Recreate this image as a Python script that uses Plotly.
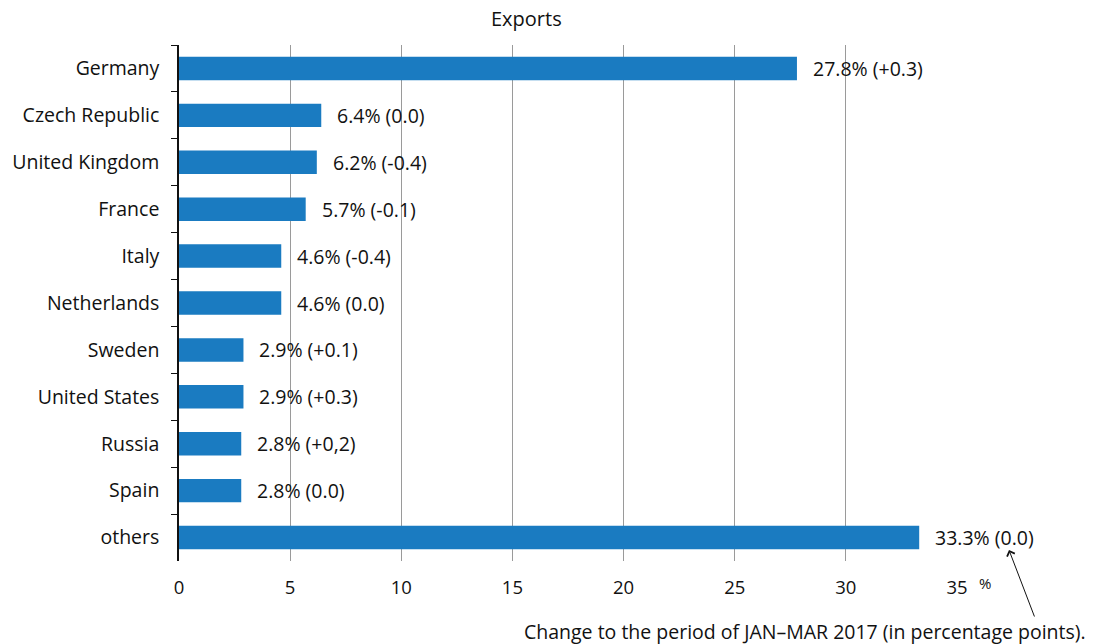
import plotly.graph_objects as go

countries = ["Germany", "Czech Republic", "United Kingdom", "France", "Italy",
             "Netherlands", "Sweden", "United States", "Russia", "Spain", "others"]
shares = [27.8, 6.4, 6.2, 5.7, 4.6, 4.6, 2.9, 2.9, 2.8, 2.8, 33.3]
changes = ["+0.3", "0.0", "-0.4", "-0.1", "-0.4", "0.0", "+0.1", "+0.3", "+0,2", "0.0", "0.0"]
x_ticks = [0, 5, 10, 15, 20, 25, 30, 35]

FONT = "Open Sans"
TXT = "#111111"
L, R, T, B = 179, 143, 45, 83
W, H = 1100, 644
pw = W - L - R

fig = go.Figure()
fig.add_trace(go.Bar(
    x=shares, y=countries, orientation="h",
    marker=dict(color="#1a7bc1", line=dict(width=0)),
    hoverinfo="skip",
))

for c, s, ch in zip(countries, shares, changes):
    fig.add_annotation(x=s, y=c, xref="x", yref="y", text=f"{s}% ({ch})",
                       showarrow=False, xanchor="left", xshift=14,
                       font=dict(family=FONT, size=19.5, color=TXT))

fig.add_annotation(x=(526 - L) / pw, y=1, xref="paper", yref="paper", yshift=27,
                   text="Exports", showarrow=False, xanchor="center", yanchor="middle",
                   font=dict(family=FONT, size=20, color=TXT))
fig.add_annotation(x=(985 - L) / pw, y=0, xref="paper", yref="paper", yshift=-22,
                   text="%", showarrow=False, xanchor="center", yanchor="middle",
                   font=dict(family=FONT, size=15, color=TXT))
fig.add_annotation(x=(1088 - L) / pw, y=0, xref="paper", yref="paper", yshift=-70,
                   text="Change to the period of JAN–MAR 2017 (in percentage points).",
                   showarrow=False, xanchor="right", yanchor="middle",
                   font=dict(family=FONT, size=19.5, color=TXT))
fig.add_annotation(x=(1009 - L) / pw, y=(H - B - 550) / (H - T - B), xref="paper", yref="paper",
                   ax=26, ay=68, text="", showarrow=True, arrowhead=4, arrowsize=1.6,
                   arrowwidth=1, arrowcolor=TXT)

fig.update_layout(
    width=W, height=H,
    margin=dict(l=L, r=R, t=T, b=B),
    plot_bgcolor="white", paper_bgcolor="white",
    bargap=0.5, showlegend=False,
    font=dict(family=FONT, size=19.5, color=TXT),
)
fig.update_xaxes(range=[0, 35], tickvals=x_ticks, showgrid=True, gridcolor="#9a9a9a",
                 gridwidth=1, zeroline=False, showline=False, ticks="",
                 ticklabelstandoff=13, tickfont=dict(family=FONT, size=18.5, color=TXT))
fig.update_yaxes(categoryorder="array", categoryarray=countries, autorange="reversed",
                 showline=True, linecolor=TXT, linewidth=1.5,
                 ticks="outside", tickson="boundaries", ticklen=6, tickcolor=TXT,
                 showgrid=False, ticklabelstandoff=14, tickfont=dict(family=FONT, size=19.5, color=TXT))

fig.write_html("out.html")
